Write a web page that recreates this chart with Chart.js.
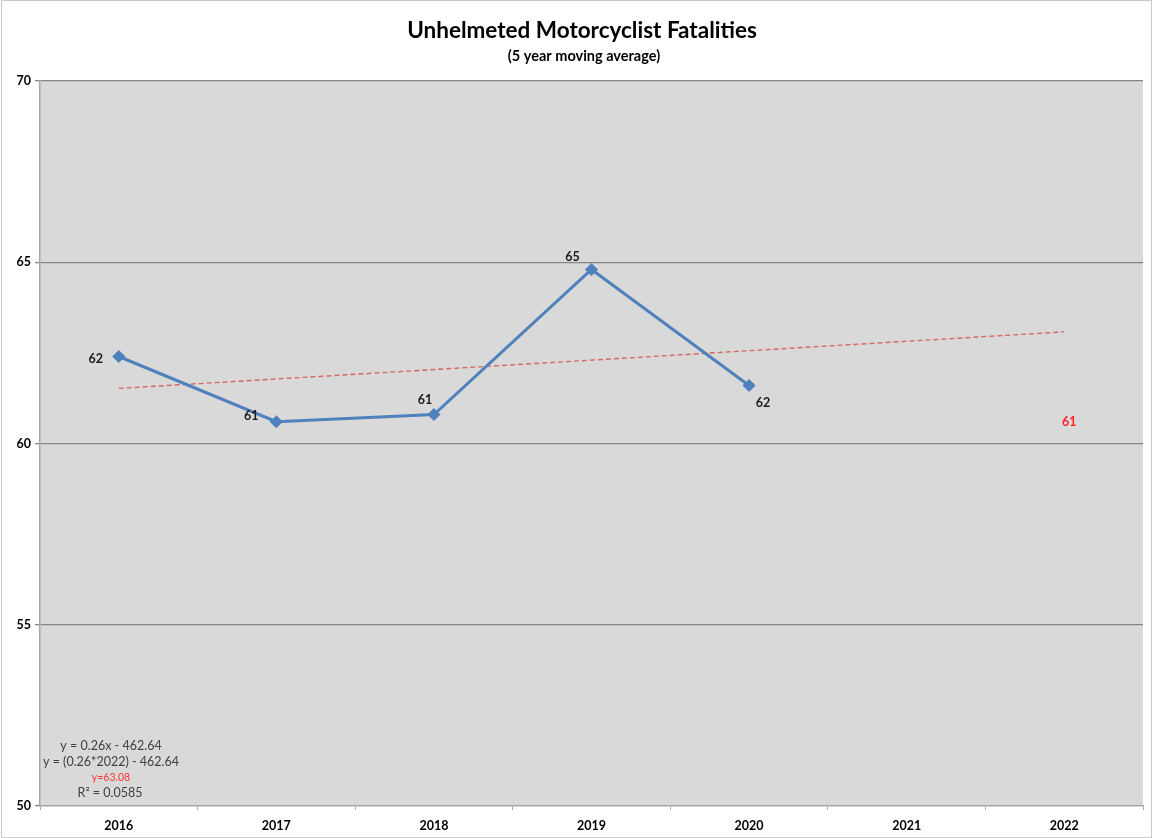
<!DOCTYPE html>
<html>
<head>
<meta charset="utf-8">
<title>Unhelmeted Motorcyclist Fatalities</title>
<script src="https://cdn.jsdelivr.net/npm/chart.js@4"></script>
<style>
  html, body { margin: 0; padding: 0; background: #ffffff; }
  #wrap { width: 1153px; height: 838px; position: relative; }
</style>
</head>
<body>
<div id="wrap"><canvas id="chart" width="1153" height="838"></canvas></div>
<script>
// Years on the category axis
const years = ['2016', '2017', '2018', '2019', '2020', '2021', '2022'];
// Five-year moving average of unhelmeted motorcyclist fatalities
const movingAvg = [62.4, 60.6, 60.8, 64.8, 61.6, null, null];
// Linear trend end points (y = 0.26x - 462.64 at 2016 and 2022)
const trendEnds = [61.52, null, null, null, null, null, 63.08];
// Projected value shown in red for 2022
const projection = [null, null, null, null, null, null, 60.6];
// Value axis ticks
const yTicks = [50, 55, 60, 65, 70];
// Trend equation notes
const equationLines = ['y = 0.26x - 462.64', 'y = (0.26*2022) - 462.64', 'y=63.08', 'R\u00B2 = 0.0585'];

const FONT = 'Lato, "Open Sans", "DejaVu Sans", sans-serif';

// Plot-area fill and outer frame
const backdrop = {
  id: 'backdrop',
  beforeDraw(chart) {
    const { ctx, chartArea: a } = chart;
    ctx.save();
    ctx.fillStyle = '#ffffff';
    ctx.fillRect(0, 0, chart.width, chart.height);
    ctx.fillStyle = '#d9d9d9';
    ctx.fillRect(a.left, a.top, a.right - a.left, a.bottom - a.top);
    ctx.strokeStyle = '#c8c8c8';
    ctx.lineWidth = 1;
    ctx.strokeRect(1.5, 0.5, chart.width - 3, chart.height - 1);
    ctx.restore();
  }
};

// Title, subtitle and equation notes
const annotations = {
  id: 'annotations',
  afterDraw(chart) {
    const { ctx } = chart;
    ctx.save();
    ctx.textAlign = 'center';
    ctx.textBaseline = 'middle';
    ctx.fillStyle = '#000000';
    ctx.font = 'bold 22.5px ' + FONT;
    ctx.fillText('Unhelmeted Motorcyclist Fatalities', 582, 31);
    ctx.font = 'bold 14.5px ' + FONT;
    ctx.fillText('(5 year moving average)', 584, 56);

    const ys = [746, 762, 778, 793];
    const xs = [111, 111, 111, 110];
    equationLines.forEach((t, i) => {
      if (i === 2) {
        ctx.font = '10.5px ' + FONT;
        ctx.fillStyle = '#ff3333';
      } else {
        ctx.font = '12.5px ' + FONT;
        ctx.fillStyle = '#404040';
      }
      ctx.fillText(t, xs[i], ys[i]);
    });
    ctx.restore();
  }
};

// Value labels next to points
const pointLabels = {
  id: 'pointLabels',
  afterDatasetsDraw(chart, args, opts) {
    const { ctx } = chart;
    ctx.save();
    ctx.textAlign = 'center';
    ctx.textBaseline = 'middle';
    ctx.font = 'bold 12.5px ' + FONT;
    chart.data.datasets.forEach((ds, di) => {
      const cfg = opts.sets[di];
      if (!cfg) return;
      const meta = chart.getDatasetMeta(di);
      meta.data.forEach((pt, i) => {
        const v = ds.data[i];
        if (v === null || v === undefined) return;
        const off = cfg.offsets[i] || [0, 0];
        ctx.fillStyle = cfg.color;
        ctx.fillText(String(Math.round(v)), pt.x + off[0], pt.y + off[1]);
      });
    });
    ctx.restore();
  }
};

new Chart(document.getElementById('chart'), {
  type: 'line',
  data: {
    labels: years,
    datasets: [
      {
        label: '5 year moving average',
        data: movingAvg,
        borderColor: '#4f81bd',
        backgroundColor: '#4f81bd',
        borderWidth: 3,
        pointStyle: 'rectRot',
        pointRadius: 4.5,
        pointHoverRadius: 4.5,
        spanGaps: false,
        order: 1
      },
      {
        label: 'Linear trend',
        data: trendEnds,
        borderColor: 'rgba(210, 85, 82, 0.85)',
        borderWidth: 1.4,
        borderDash: [5, 3],
        pointRadius: 0,
        spanGaps: true,
        order: 2
      },
      {
        label: 'Projection',
        data: projection,
        borderColor: 'rgba(0,0,0,0)',
        backgroundColor: 'rgba(0,0,0,0)',
        pointRadius: 0,
        showLine: false,
        order: 3
      }
    ]
  },
  options: {
    responsive: false,
    animation: false,
    events: [],
    layout: { padding: { top: 81, right: 10, bottom: 0, left: 0 } },
    plugins: {
      legend: { display: false },
      title: { display: false },
      tooltip: { enabled: false },
      pointLabels: {
        sets: {
          0: { color: '#1a1a1a', offsets: [[-23, 2], [-25, -6], [-9, -15], [-19, -13], [14, 17]] },
          2: { color: '#ff2020', offsets: [[0, 0], [0, 0], [0, 0], [0, 0], [0, 0], [0, 0], [5, 0]] }
        }
      }
    },
    scales: {
      x: {
        type: 'category',
        offset: true,
        afterFit(scale) { scale.height = 32; },
        border: { display: true, color: '#a6a6a6', width: 1.5 },
        grid: { display: true, offset: true, drawOnChartArea: false, drawTicks: true, tickLength: 4, color: '#a6a6a6' },
        ticks: { color: '#000000', font: { family: FONT, size: 12.5, weight: 'bold' }, padding: 8, maxRotation: 0 }
      },
      y: {
        min: 50,
        max: 70,
        afterFit(scale) { scale.width = 40; },
        afterBuildTicks(scale) { scale.ticks = yTicks.map(v => ({ value: v })); },
        border: { display: true, color: '#a6a6a6', width: 1.5 },
        grid: {
          color: (c) => (c.tick && c.tick.value === 50 ? 'rgba(0,0,0,0)' : '#858585'),
          lineWidth: 1.3,
          drawTicks: true,
          tickLength: 5,
          tickColor: '#858585'
        },
        ticks: { color: '#000000', font: { family: FONT, size: 12.5, weight: 'bold' }, padding: 4 }
      }
    }
  },
  plugins: [backdrop, annotations, pointLabels]
});
</script>
</body>
</html>
